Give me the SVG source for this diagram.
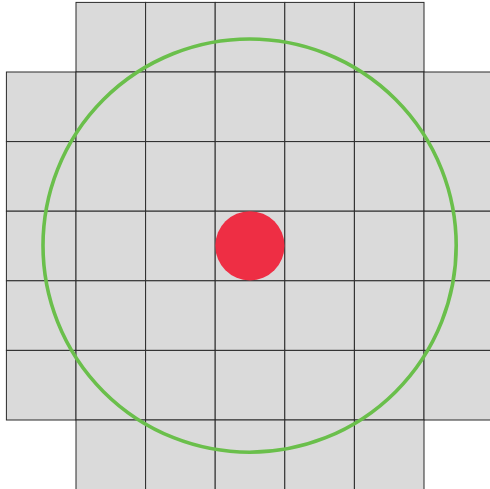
<svg xmlns="http://www.w3.org/2000/svg" width="490" height="489" viewBox="0 0 490 489">
<defs>
<style>
.c{fill:#dadada;stroke:#2a2a2a;stroke-width:1}
</style>
<rect id="cell" class="c" width="69.6" height="69.6"/>
</defs>
<rect width="490" height="489" fill="#fff"/>
<g id="grid">
<use href="#cell" x="76" y="2.4"/><use href="#cell" x="145.6" y="2.4"/><use href="#cell" x="215.2" y="2.4"/><use href="#cell" x="284.8" y="2.4"/><use href="#cell" x="354.4" y="2.4"/>
<use href="#cell" x="6.4" y="72"/><use href="#cell" x="76" y="72"/><use href="#cell" x="145.6" y="72"/><use href="#cell" x="215.2" y="72"/><use href="#cell" x="284.8" y="72"/><use href="#cell" x="354.4" y="72"/><use href="#cell" x="424" y="72"/>
<use href="#cell" x="6.4" y="141.6"/><use href="#cell" x="76" y="141.6"/><use href="#cell" x="145.6" y="141.6"/><use href="#cell" x="215.2" y="141.6"/><use href="#cell" x="284.8" y="141.6"/><use href="#cell" x="354.4" y="141.6"/><use href="#cell" x="424" y="141.6"/>
<use href="#cell" x="6.4" y="211.2"/><use href="#cell" x="76" y="211.2"/><use href="#cell" x="145.6" y="211.2"/><use href="#cell" x="215.2" y="211.2"/><use href="#cell" x="284.8" y="211.2"/><use href="#cell" x="354.4" y="211.2"/><use href="#cell" x="424" y="211.2"/>
<use href="#cell" x="6.4" y="280.8"/><use href="#cell" x="76" y="280.8"/><use href="#cell" x="145.6" y="280.8"/><use href="#cell" x="215.2" y="280.8"/><use href="#cell" x="284.8" y="280.8"/><use href="#cell" x="354.4" y="280.8"/><use href="#cell" x="424" y="280.8"/>
<use href="#cell" x="6.4" y="350.4"/><use href="#cell" x="76" y="350.4"/><use href="#cell" x="145.6" y="350.4"/><use href="#cell" x="215.2" y="350.4"/><use href="#cell" x="284.8" y="350.4"/><use href="#cell" x="354.4" y="350.4"/><use href="#cell" x="424" y="350.4"/>
<use href="#cell" x="76" y="420"/><use href="#cell" x="145.6" y="420"/><use href="#cell" x="215.2" y="420"/><use href="#cell" x="284.8" y="420"/><use href="#cell" x="354.4" y="420"/>
</g>
<circle id="range" cx="249.6" cy="245.6" r="206.6" fill="none" stroke="#6abf4b" stroke-width="3.6"/>
<circle id="center" cx="249.9" cy="245.8" r="34.6" fill="#ee2e44"/>
</svg>
